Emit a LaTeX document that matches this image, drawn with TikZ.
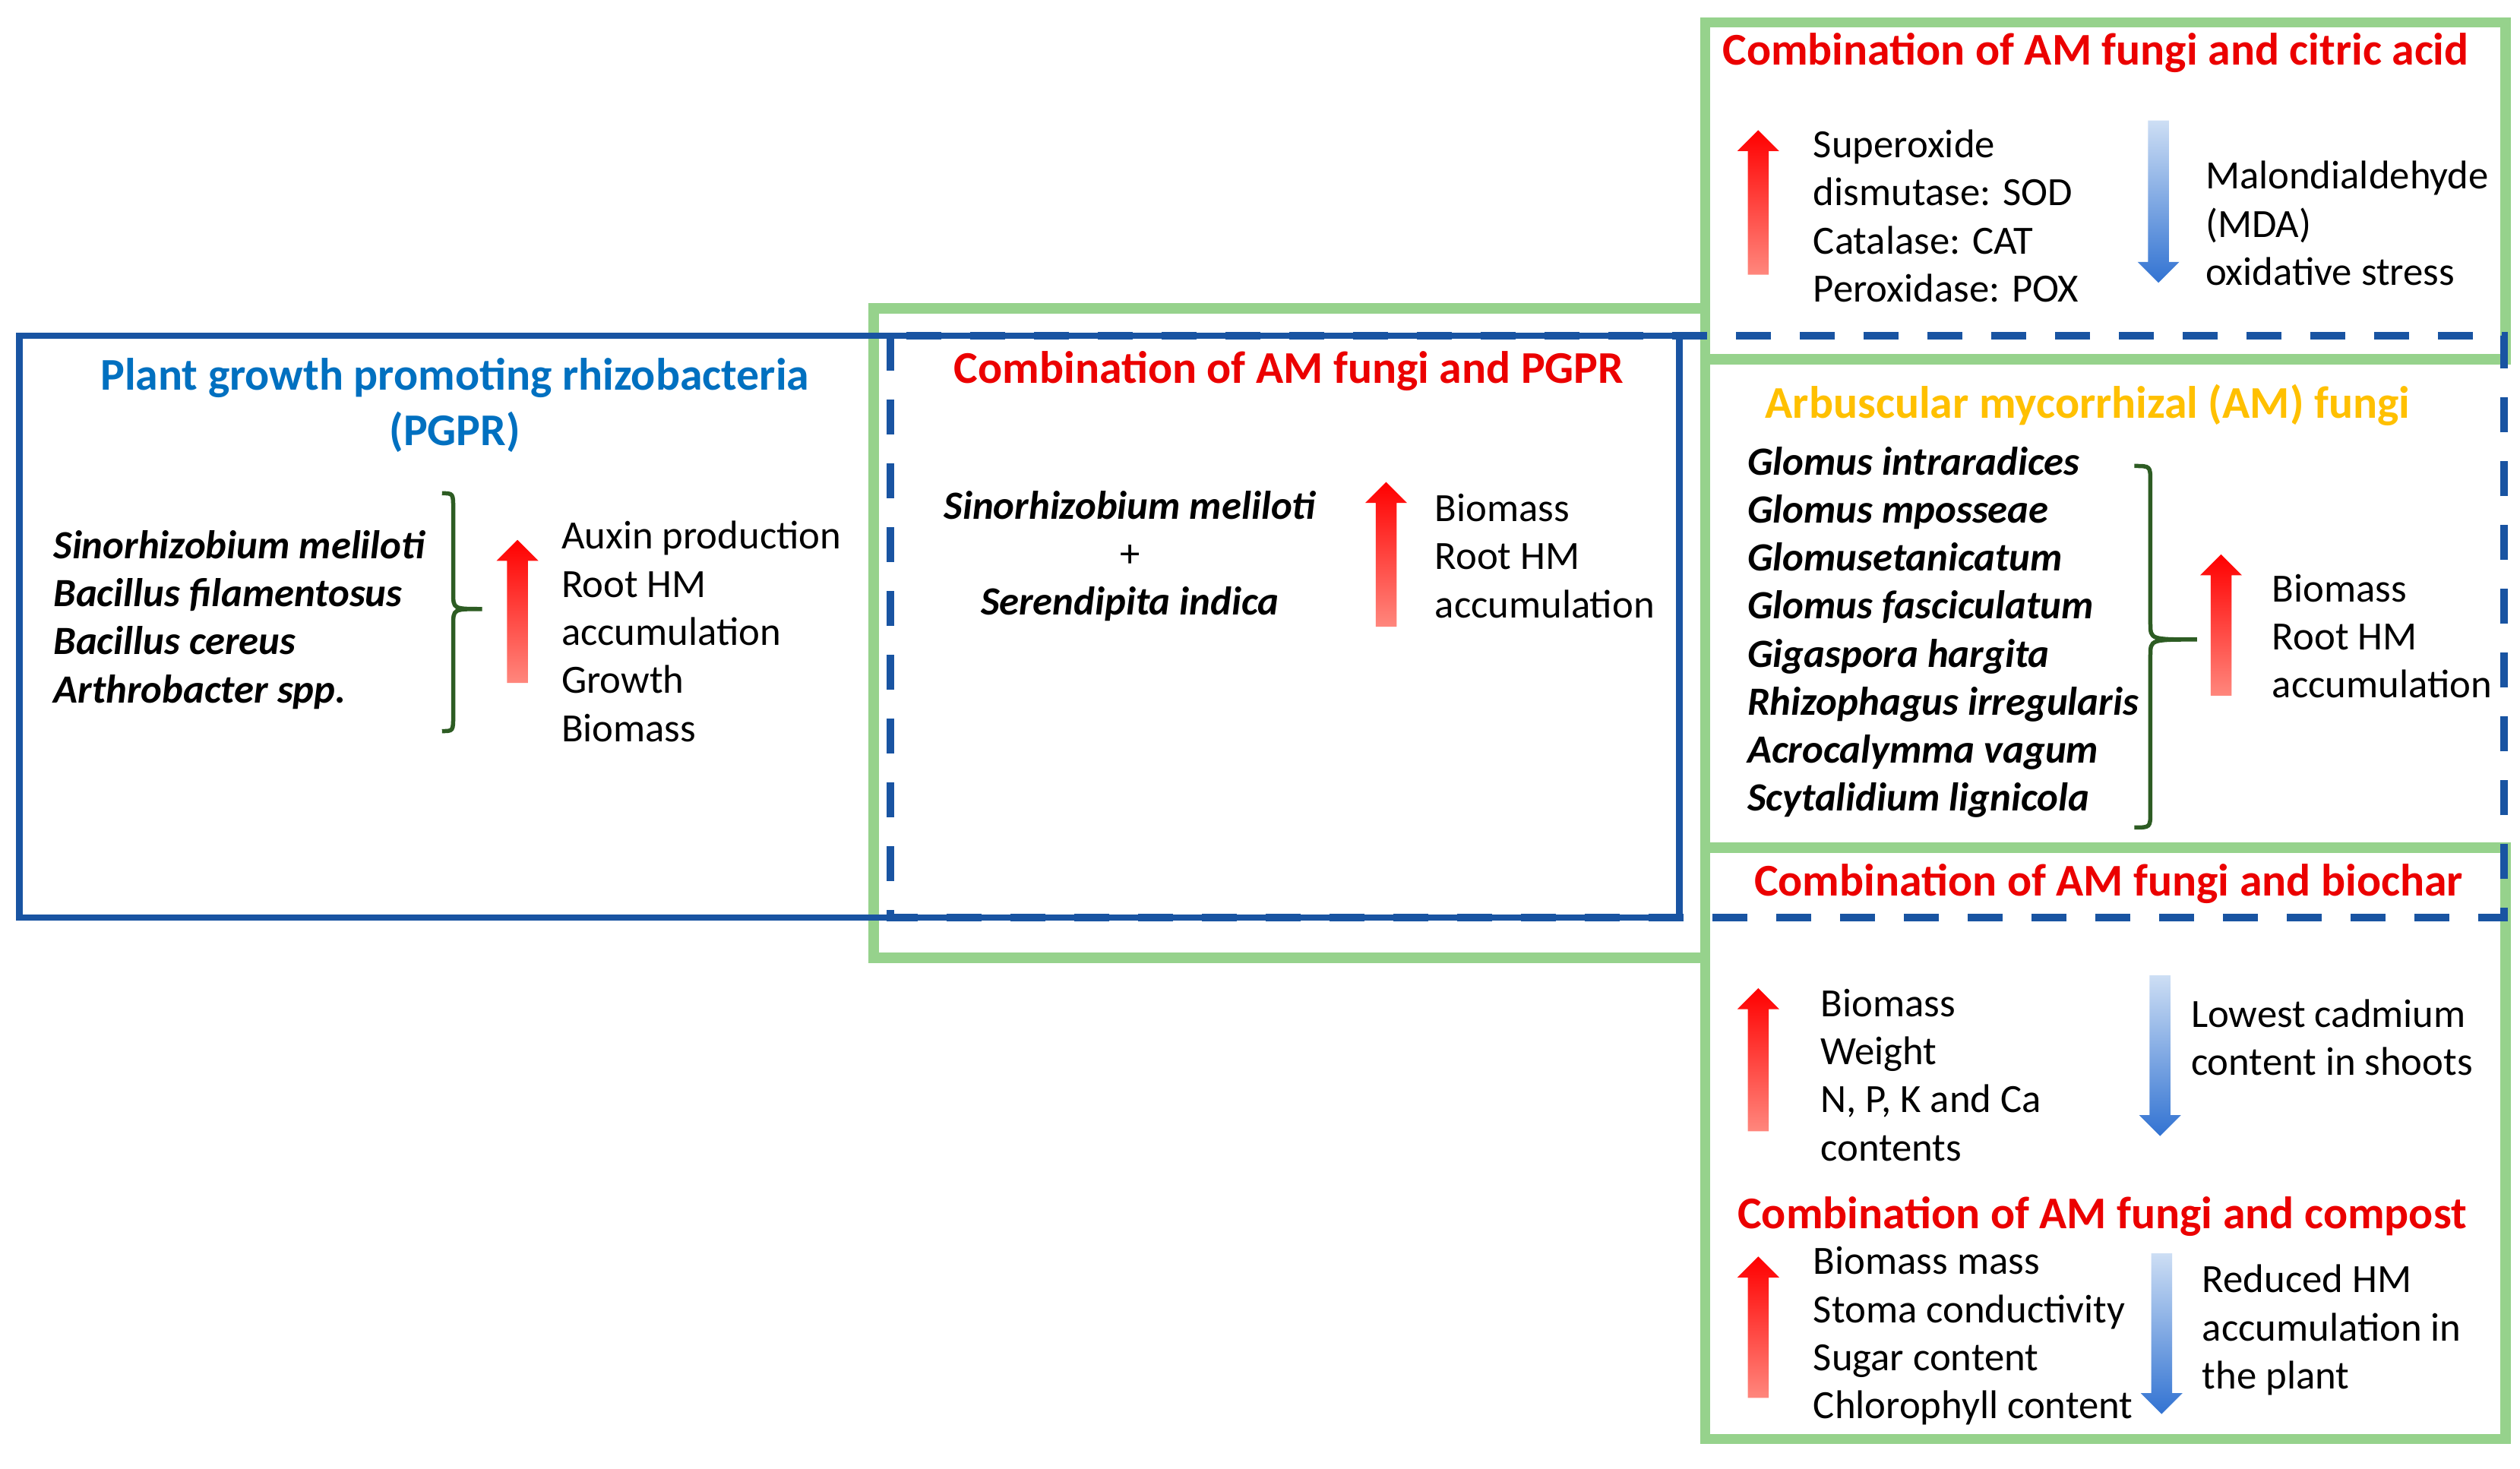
\documentclass[tikz,border=0pt]{standalone}
\usepackage{fontspec}
\setmainfont{Carlito}

\definecolor{lineblue}{RGB}{25,84,162}
\definecolor{titleblue}{RGB}{0,112,192}
\definecolor{boxgreen}{RGB}{150,210,140}
\definecolor{titlered}{RGB}{235,0,0}
\definecolor{amgold}{RGB}{255,192,0}
\definecolor{bracegreen}{RGB}{45,92,35}
\definecolor{uptop}{RGB}{255,0,0}
\definecolor{upbottom}{RGB}{255,135,125}
\definecolor{downtop}{RGB}{205,222,244}
\definecolor{downbottom}{RGB}{50,115,210}

\tikzset{
  heading/.style={font=\bfseries\fontsize{17}{20.75}\selectfont, inner sep=0pt},
  species/.style={font=\bfseries\itshape\fontsize{15}{18}\selectfont, align=left, anchor=west, inner sep=0pt},
  effect/.style={font=\fontsize{15}{18}\selectfont, align=left, anchor=west, inner sep=0pt},
  pgprline/.style={draw=lineblue, line width=0.85mm},
  amline/.style={draw=lineblue, line width=1.05mm, dash pattern=on 4.6mm off 3.8mm},
  combobox/.style={draw=boxgreen, line width=1.35mm},
  bracestyle/.style={draw=bracegreen, line width=0.55mm}
}

\newcommand{\uparr}[3]{%
  \shade[top color=uptop, bottom color=upbottom] (#1,#2) -- (#1+13,#2+13) -- (#1+6.5,#2+13) -- (#1+6.5,#3) -- (#1-6.5,#3) -- (#1-6.5,#2+13) -- (#1-13,#2+13) -- cycle;}
\newcommand{\downarr}[3]{%
  \shade[top color=downtop, bottom color=downbottom] (#1-6.5,#2) -- (#1+6.5,#2) -- (#1+6.5,#3-13) -- (#1+13,#3-13) -- (#1,#3) -- (#1-13,#3-13) -- (#1-6.5,#3-13) -- cycle;}
\newcommand{\gbrace}[6]{%
  \draw[bracestyle] (#1,#4) .. controls (#2,#4) .. (#2,#4+10) -- (#2,#5-10) .. controls (#2,#5) .. (#3,#5) .. controls (#2,#5) .. (#2,#5+10) -- (#2,#6-10) .. controls (#2,#6) .. (#1,#6);}

\begin{document}
\begin{tikzpicture}[x=0.21154mm,y=-0.21154mm]
  \fill[white] (0,0) rectangle (1568,914);
  \useasboundingbox (0,0) rectangle (1568,914);

  \draw[combobox] (543.5,192) rectangle (1061,596);
  \draw[combobox] (1061,14) rectangle (1559,223.5);
  \draw[combobox] (1061,527.5) rectangle (1559,895.5);

  \draw[pgprline] (12,209) rectangle (1045,571);
  \draw[amline] (554,209) rectangle (1558,571);

  \node[heading, text=titleblue, align=center] (pgprtitle) at (283,252) {Plant growth promoting rhizobacteria\\(PGPR)};
  \node[species] (pgprspecies) at (33,385.7) {Sinorhizobium meliloti\\Bacillus filamentosus\\Bacillus cereus\\Arthrobacter spp.};
  \gbrace{275}{282}{300}{307}{379}{455}
  \uparr{322}{336}{425}
  \node[effect] (pgpreffects) at (349,393) {Auxin production\\Root HM\\accumulation\\Growth\\Biomass};

  \node[heading, text=titlered] (combotitle) at (802,231) {Combination of AM fungi and PGPR};
  \node[species, align=center, anchor=center] (combospecies) at (703,346) {Sinorhizobium meliloti\\\normalfont +\\Serendipita indica};
  \uparr{862.5}{300}{390}
  \node[effect] (comboeffects) at (892.5,346) {Biomass\\Root HM\\accumulation};

  \node[heading, text=titlered] (citrictitle) at (1304,33) {Combination of AM fungi and citric acid};
  \uparr{1094}{81}{171}
  \node[effect] (citricup) at (1128,134.5) {Superoxide\\dismutase: SOD\\Catalase: CAT\\Peroxidase: POX};
  \downarr{1343}{75}{176}
  \node[effect] (citricdown) at (1372,139) {Malondialdehyde\\(MDA)\\oxidative stress};

  \node[heading, text=amgold] (amtitle) at (1299,252) {Arbuscular mycorrhizal (AM) fungi};
  \node[species] (amspecies) at (1087,393.5) {Glomus intraradices\\Glomus mposseae\\Glomusetanicatum\\Glomus fasciculatum\\Gigaspora hargita\\Rhizophagus irregularis\\Acrocalymma vagum\\Scytalidium lignicola};
  \gbrace{1328}{1338}{1367}{290}{398}{515}
  \uparr{1382}{345}{433}
  \node[effect] (ameffects) at (1413.5,396) {Biomass\\Root HM\\accumulation};

  \node[heading, text=titlered] (biochartitle) at (1312,550) {Combination of AM fungi and biochar};
  \uparr{1094}{615}{704}
  \node[effect] (biocharup) at (1132.5,669) {Biomass\\Weight\\N, P, K and Ca\\contents};
  \downarr{1344}{607}{707}
  \node[effect] (biochardown) at (1363,645.6) {Lowest cadmium\\content in shoots};

  \node[heading, text=titlered] (composttitle) at (1308,757) {Combination of AM fungi and compost};
  \uparr{1094}{782}{870}
  \node[effect] (compostup) at (1128,831.5) {Biomass mass\\Stoma conductivity\\Sugar content\\Chlorophyll content};
  \downarr{1345}{780}{880}
  \node[effect] (compostdown) at (1370,827.7) {Reduced HM\\accumulation in\\the plant};
\end{tikzpicture}
\end{document}
